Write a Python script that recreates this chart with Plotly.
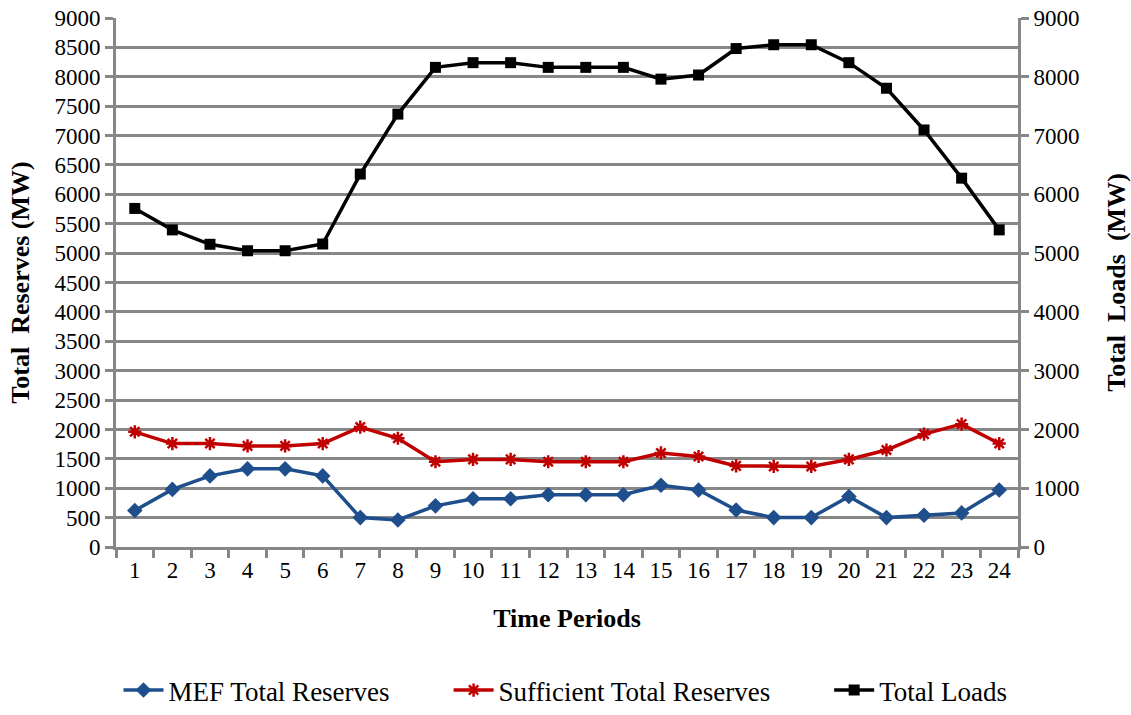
import plotly.graph_objects as go

periods = [str(i) for i in range(1, 25)]
mef_reserves = [620, 980, 1210, 1330, 1330, 1210, 500, 460, 700, 820, 820, 890,
                890, 890, 1050, 970, 630, 500, 500, 860, 500, 540, 580, 970]
sufficient_reserves = [1960, 1760, 1760, 1720, 1720, 1760, 2040, 1850, 1450, 1490, 1490, 1450,
                       1450, 1450, 1600, 1540, 1380, 1370, 1370, 1490, 1650, 1920, 2090, 1760]
total_loads = [5760, 5395, 5150, 5040, 5040, 5155, 6345, 7365, 8160, 8240, 8240, 8160,
               8160, 8160, 7960, 8030, 8480, 8545, 8545, 8240, 7805, 7095, 6275, 5395]
left_ticks = list(range(0, 9001, 500))
right_ticks = list(range(0, 9001, 1000))

FONT = "Times New Roman"
GRID = "#878787"
TICKFONT = dict(family=FONT, size=23, color="black")
TITLEFONT = dict(family=FONT, size=26, color="black")
SP = "\u00a0" * 8

fig = go.Figure()
fig.add_trace(go.Scatter(x=periods, y=mef_reserves, name="MEF Total Reserves" + SP,
                         mode="lines+markers",
                         line=dict(color="#1F4E8C", width=3.5),
                         marker=dict(symbol="diamond", size=12, color="#1F4E8C")))
fig.add_trace(go.Scatter(x=periods, y=sufficient_reserves, name="Sufficient Total Reserves" + SP,
                         mode="lines+markers",
                         line=dict(color="#C00000", width=3.5),
                         marker=dict(symbol="asterisk-open", size=11, color="#C00000",
                                     line=dict(color="#C00000", width=2.5))))
fig.add_trace(go.Scatter(x=periods, y=total_loads, name="Total Loads", yaxis="y2",
                         mode="lines+markers",
                         line=dict(color="black", width=3.5),
                         marker=dict(symbol="square", size=11, color="black")))

fig.update_layout(
    width=1131, height=715,
    margin=dict(l=116, r=113, t=18, b=168, autoexpand=False),
    plot_bgcolor="white", paper_bgcolor="white",
    font=dict(family=FONT, size=22, color="black"),
    showlegend=True,
    legend=dict(orientation="h", x=0.5, xanchor="center", xref="container",
                y=-0.024, yanchor="bottom", yref="container",
                font=dict(family=FONT, size=27, color="black"),
                traceorder="normal", itemwidth=40),
    xaxis=dict(type="category", range=[-0.5, 23.5], tickson="boundaries", ticks="outside",
               ticklen=8, tickwidth=3, tickcolor=GRID, showline=True, linecolor=GRID,
               linewidth=3, showgrid=False, tickfont=TICKFONT, automargin=False,
               title=dict(text="<b>Time Periods</b>", font=TITLEFONT, standoff=28)),
    yaxis=dict(range=[0, 9000], tickvals=left_ticks, ticks="outside", ticklen=8,
               tickwidth=3, tickcolor=GRID, showline=True, linecolor=GRID, linewidth=3,
               showgrid=True, gridcolor=GRID, gridwidth=3, zeroline=False,
               tickfont=TICKFONT, automargin=False,
               title=dict(text="<b>Total\u00a0 Reserves (MW)</b>", font=TITLEFONT, standoff=18)),
    yaxis2=dict(range=[0, 9000], tickvals=right_ticks, overlaying="y", side="right",
                ticks="outside", ticklen=8, tickwidth=3, tickcolor=GRID,
                showline=True, linecolor=GRID, linewidth=3, showgrid=False, zeroline=False,
                tickfont=TICKFONT, automargin=False,
                title=dict(text="<b>Total\u00a0 Loads\u00a0 (MW)</b>", font=TITLEFONT, standoff=30)),
)

fig.write_html("out.html")
